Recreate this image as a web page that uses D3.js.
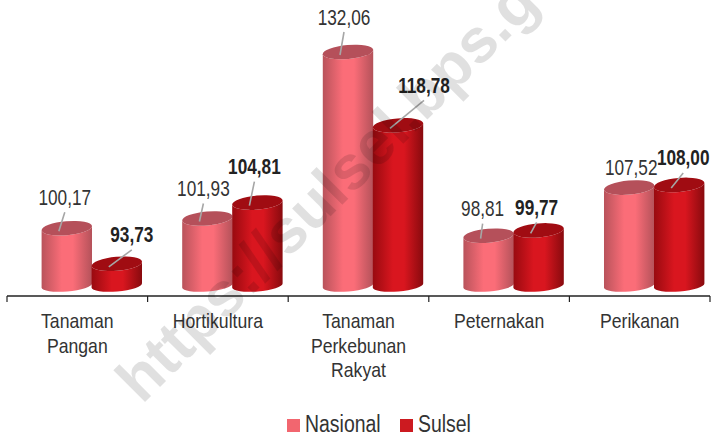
<!DOCTYPE html>
<html>
<head>
<meta charset="utf-8">
<script src="https://cdn.jsdelivr.net/npm/d3@7/dist/d3.min.js"></script>
<style>
  html, body { margin: 0; padding: 0; background: #fff; }
  svg { display: block; }
  text { font-family: "Liberation Sans", sans-serif; fill: #333; }
</style>
</head>
<body>
<div id="chart"></div>
<script>
var categories = [["Tanaman", "Pangan"], ["Hortikultura"], ["Tanaman", "Perkebunan", "Rakyat"], ["Peternakan"], ["Perikanan"]];
var nasional = [100.17, 101.93, 132.06, 98.81, 107.52];
var sulsel = [93.73, 104.81, 118.78, 99.77, 108.0];
// label centre, relative to the top of each cylinder
var nasionalLabelOffset = [[-2, -31], [-4, -30], [-4, -35], [-6, -27], [2, -20]];
var sulselLabelOffset = [[15, -29], [-3, -36], [26, -40], [-2, -23], [4, -27]];
var nasionalLeader = [true, true, true, true, false];
var sulselLeader = [true, true, true, true, true];

var width = 711;
var height = 436;
var baseValue = 89.8;
var rx = 25.3;
var ryTop = 7;
var ryBottom = 6;
var tilt = (5 * Math.PI) / 180;

var svg = d3.select("#chart").append("svg").attr("width", width).attr("height", height);
var defs = svg.append("defs");

function addGradient(id, edge, mid, edge2) {
  var grad = defs.append("linearGradient").attr("id", id).attr("x1", 0).attr("x2", 1).attr("y1", 0).attr("y2", 0);
  grad.append("stop").attr("offset", "0%").attr("stop-color", edge);
  grad.append("stop").attr("offset", "40%").attr("stop-color", mid);
  grad.append("stop").attr("offset", "62%").attr("stop-color", mid);
  grad.append("stop").attr("offset", "100%").attr("stop-color", edge2);
}
addGradient("gradNasional", "#b9535b", "#fb6d78", "#b4525a");
addGradient("gradSulsel", "#990a10", "#d9161f", "#880a0e");

var x = d3.scaleBand().domain(d3.range(categories.length)).range([7, 710]);
var y = d3.scaleLinear().domain([baseValue, 132.06]).range([285.5, 52]);

var series = [
  { name: "Nasional", values: nasional, offset: nasionalLabelOffset, leader: nasionalLeader, shift: -10.5, grad: "url(#gradNasional)", top: "#b5505a", swatch: "#f2666f", weight: "normal" },
  { name: "Sulsel", values: sulsel, offset: sulselLabelOffset, leader: sulselLeader, shift: 39.5, grad: "url(#gradSulsel)", top: "#a00c12", swatch: "#cc1a20", weight: "bold" },
];

function cylinderBody(cx, top, bottom) {
  var dx = rx * Math.cos(tilt);
  var dy = rx * Math.sin(tilt);
  var deg = (-tilt * 180) / Math.PI;
  return (
    "M" + (cx - dx) + "," + (top + dy) +
    "L" + (cx - dx) + "," + (bottom + dy) +
    "A" + rx + "," + ryBottom + " " + deg + " 0 0 " + (cx + dx) + "," + (bottom - dy) +
    "L" + (cx + dx) + "," + (top - dy) +
    "A" + rx + "," + ryTop + " " + deg + " 0 1 " + (cx - dx) + "," + (top + dy) + "Z"
  );
}

function fmt(v) {
  return v.toFixed(2).replace(".", ",");
}

// the reference uses a narrow face, so squeeze the text to match
function squeeze(sel, factor) {
  sel.each(function () {
    d3.select(this)
      .attr("textLength", this.getComputedTextLength() * factor)
      .attr("lengthAdjust", "spacingAndGlyphs");
  });
}

// axis line with ticks between the categories
var axis = d3.axisBottom(x).tickSize(0).tickFormat("");
var axisG = svg.append("g").attr("transform", "translate(0,296)").call(axis);
axisG.select(".domain").attr("stroke", "#222").attr("stroke-width", 1.6).attr("d", "M7,0H710");
axisG
  .selectAll(".sep")
  .data(d3.range(categories.length + 1))
  .enter()
  .append("line")
  .attr("x1", function (d) { return 7 + d * x.step(); })
  .attr("x2", function (d) { return 7 + d * x.step(); })
  .attr("y1", 0)
  .attr("y2", 6)
  .attr("stroke", "#222")
  .attr("stroke-width", 1.2);

// cylinders, one category at a time so Sulsel overlaps Nasional
categories.forEach(function (c, i) {
  var g = svg.append("g");
  series.forEach(function (s) {
    var cx = x(i) + x.bandwidth() / 2 + s.shift;
    var top = y(s.values[i]);
    g.append("path").attr("d", cylinderBody(cx, top, y(baseValue))).attr("fill", s.grad);
    g.append("ellipse")
      .attr("rx", rx)
      .attr("ry", ryTop)
      .attr("transform", "translate(" + cx + "," + top + ") rotate(" + (-tilt * 180) / Math.PI + ")")
      .attr("fill", s.top);
  });
});

// value labels and their leader lines
categories.forEach(function (c, i) {
  series.forEach(function (s) {
    var cx = x(i) + x.bandwidth() / 2 + s.shift;
    var top = y(s.values[i]);
    var lx = cx + s.offset[i][0];
    var ly = top + s.offset[i][1];
    if (s.leader[i]) {
      svg.append("line")
        .attr("x1", cx - 8)
        .attr("y1", top + 3)
        .attr("x2", lx)
        .attr("y2", ly + 15)
        .attr("stroke", "#a6a6a6")
        .attr("stroke-width", 1.6);
    }
    svg.append("text")
      .attr("x", lx)
      .attr("y", ly + 7.5)
      .attr("text-anchor", "middle")
      .attr("font-size", 21.5)
      .attr("font-weight", s.weight)
      .style("fill", s.weight === "bold" ? "#222" : "#333")
      .text(fmt(s.values[i]))
      .call(squeeze, 0.8);
  });
});

// category labels
categories.forEach(function (c, i) {
  c.forEach(function (line, k) {
    svg.append("text")
      .attr("x", x(i) + x.bandwidth() / 2)
      .attr("y", 328 + k * 24.5)
      .attr("text-anchor", "middle")
      .attr("font-size", 21)
      .text(line)
      .call(squeeze, 0.84);
  });
});

// legend
var legendX = [287, 400];
series.forEach(function (s, i) {
  svg.append("rect").attr("x", legendX[i]).attr("y", 419).attr("width", 13).attr("height", 13).attr("fill", s.swatch);
  svg.append("text")
    .attr("x", legendX[i] + 18)
    .attr("y", 432)
    .attr("font-size", 23)
    .text(s.name)
    .call(squeeze, 0.845);
});

// watermark
svg.append("text")
  .attr("transform", "translate(142,405) rotate(-45)")
  .style("fill", "#000")
  .style("fill-opacity", 0.12)
  .attr("font-size", 62)
  .attr("font-weight", "bold")
  .text("https://sulsel.bps.go.id");
</script>
</body>
</html>
